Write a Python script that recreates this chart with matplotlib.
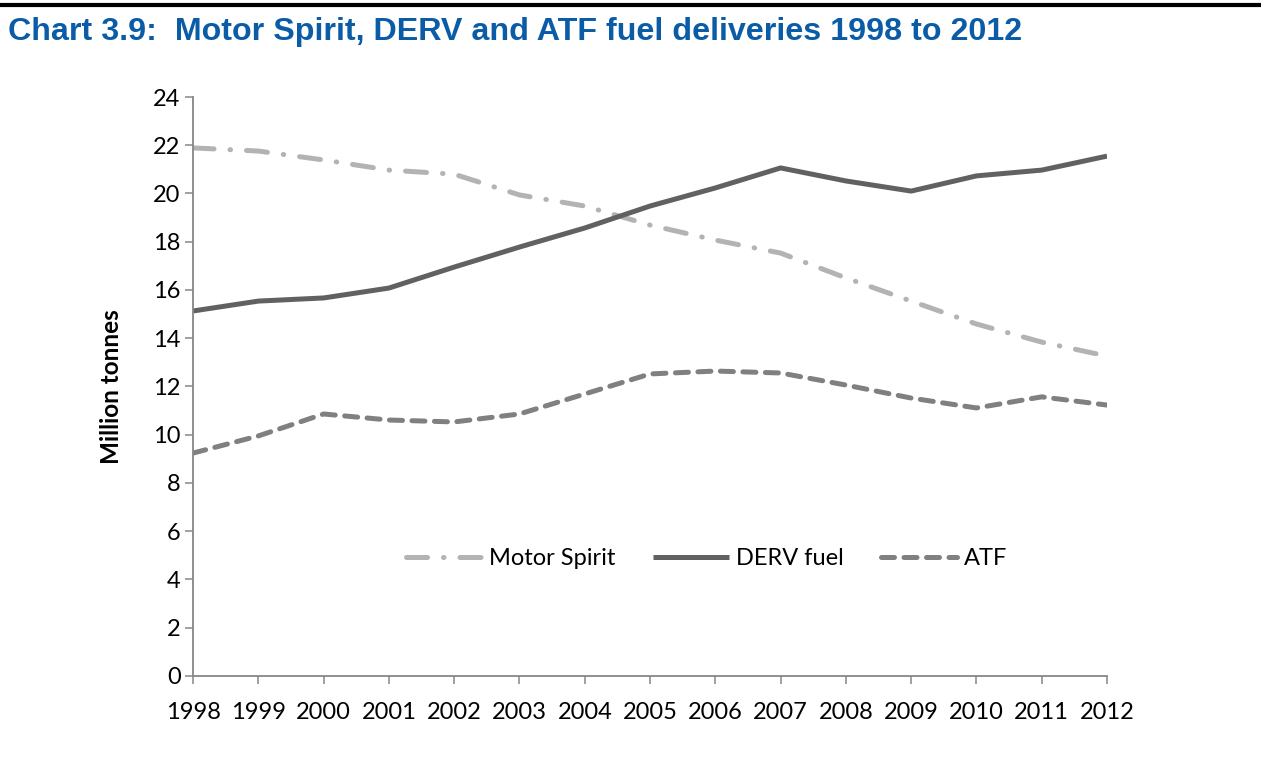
#Motor Spirit, DERV and ATF fuel deliveries 1998-2012
import matplotlib.pyplot as plt

years = list(range(1998, 2013))
motor_spirit = [21.89, 21.76, 21.39, 20.97, 20.80, 19.94, 19.48, 18.69, 18.07, 17.53,
                16.50, 15.54, 14.59, 13.84, 13.26]
derv = [15.13, 15.54, 15.67, 16.08, 16.95, 17.78, 18.57, 19.48, 20.23, 21.06,
        20.52, 20.10, 20.73, 20.97, 21.55]
atf = [9.24, 9.95, 10.86, 10.61, 10.53, 10.86, 11.69, 12.52, 12.64, 12.56,
       12.06, 11.52, 11.11, 11.57, 11.23]
yticks = list(range(0, 25, 2))

plt.rcParams.update({"font.family": ["Lato", "DejaVu Sans"], "font.size": 17})

fig = plt.figure(figsize=(12.61, 7.62), dpi=100)
ax = fig.add_axes([0.1531, 0.1129, 0.7248, 0.7598])

lw = 3.6
ax.plot(years, motor_spirit, color="#B3B3B3", lw=lw, dash_capstyle="round",
        dashes=(4.2, 3.2, 0.1, 3.2), label="Motor Spirit")
ax.plot(years, derv, color="#616161", lw=lw, solid_capstyle="butt", label="DERV fuel")
ax.plot(years, atf, color="#808080", lw=lw, dash_capstyle="round",
        dashes=(2.6, 1.9), label="ATF")

ax.set_xlim(1998, 2012)
ax.set_ylim(0, 24)
ax.set_xticks(years)
ax.set_yticks(yticks)
ax.set_ylabel("Million tonnes", fontweight="bold", fontsize=17.5, labelpad=22)

for s in ["top", "right"]:
    ax.spines[s].set_visible(False)
for s in ["left", "bottom"]:
    ax.spines[s].set_color("#868686")
    ax.spines[s].set_linewidth(1.3)
ax.tick_params(axis="both", direction="out", length=6, width=1.1, color="#868686",
               labelsize=17)
ax.tick_params(axis="x", pad=13)
ax.tick_params(axis="y", pad=3)

leg = ax.legend(loc="center", bbox_to_anchor=(0.562, 0.2025), ncol=3, frameon=False,
                handlelength=3.2, columnspacing=1.6, handletextpad=0.3, fontsize=17)

fig.text(0.006, 0.958, "Chart 3.9:  Motor Spirit, DERV and ATF fuel deliveries 1998 to 2012",
         color="#0B5CA6", fontweight="bold", fontsize=23.2, va="center",
         family=["Liberation Sans", "DejaVu Sans"])
fig.add_artist(plt.Line2D([0, 1], [0.993, 0.993], color="black", lw=3,
                          transform=fig.transFigure))

fig.savefig("out.png", dpi=100)
